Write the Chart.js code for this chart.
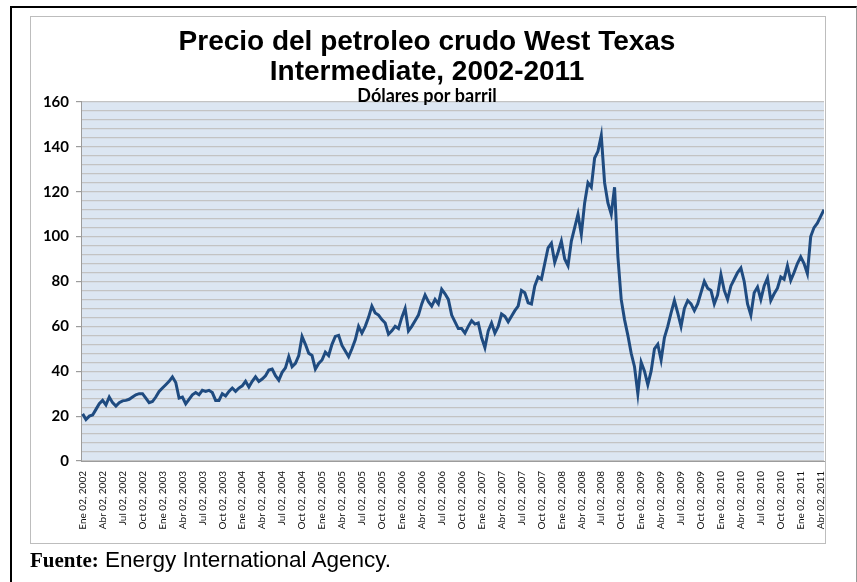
<!DOCTYPE html>
<html>
<head>
<meta charset="utf-8">
<script src="https://cdn.jsdelivr.net/npm/chart.js@4.4.1/dist/chart.umd.min.js"></script>
<style>
  html, body { margin: 0; padding: 0; background: #fff; }
  #wrap { position: relative; width: 857px; height: 582px; overflow: hidden; }
  #outer { position: absolute; left: 10px; top: 6px; width: 844px; height: 600px;
           border-left: 2px solid #000; border-top: 2px solid #000; border-right: 1px solid #999; }
  #frame { position: absolute; left: 30px; top: 16px; width: 794px; height: 526px;
           border: 1px solid #bdbdbd; pointer-events: none; }
  #chart { position: absolute; left: 0; top: 0; }
  #fuente { position: absolute; left: 30px; top: 547px; font-family: "Liberation Sans", Arial, sans-serif;
            font-size: 22.5px; color: #000; white-space: nowrap; }
  #fuente b { font-family: "Liberation Serif", "Times New Roman", serif; font-size: 21px; }
</style>
</head>
<body>
<div id="wrap">
  <div id="outer"></div>
  <canvas id="chart" width="857" height="582"></canvas>
  <div id="frame"></div>
  <div id="fuente"><b>Fuente:</b> Energy International Agency.</div>
</div>
<script>
// precio semi-mensual (USD/barril)
let price2002 = [21.0, 18.5, 20.0, 20.5, 23.0, 25.5, 27.0, 25.0, 28.5, 26.0, 24.5, 26.0, 26.8, 27.0, 27.5, 28.5, 29.5, 30.0, 30.0, 28.0, 26.0, 26.5, 28.5, 31.0];
let price2003 = [32.5, 34.0, 35.5, 37.5, 35.0, 28.0, 28.5, 25.5, 27.5, 29.5, 30.5, 29.5, 31.5, 31.0, 31.5, 30.5, 27.0, 27.0, 30.0, 29.0, 31.0, 32.5, 31.0, 32.5];
let price2004 = [33.5, 35.5, 33.0, 35.5, 37.5, 35.5, 36.5, 38.0, 40.5, 41.0, 38.0, 36.0, 39.5, 41.5, 46.5, 42.0, 43.5, 47.0, 55.5, 52.0, 48.0, 47.0, 41.0, 43.5];
let price2005 = [45.0, 48.5, 47.0, 52.0, 55.5, 56.0, 51.5, 49.0, 46.5, 50.0, 54.0, 60.0, 57.0, 60.0, 64.0, 69.0, 66.0, 65.0, 63.0, 61.5, 56.5, 58.0, 60.0, 59.0];
let price2006 = [64.0, 68.0, 58.0, 60.0, 62.5, 65.0, 70.0, 74.0, 71.0, 69.0, 72.0, 70.0, 76.5, 74.5, 72.0, 65.0, 62.0, 59.0, 59.0, 57.0, 60.0, 62.5, 61.0, 61.5];
let price2007 = [55.0, 50.5, 58.0, 61.5, 57.0, 60.0, 65.5, 64.5, 62.0, 64.5, 67.0, 69.0, 76.0, 75.0, 70.5, 70.0, 78.0, 82.0, 81.0, 88.0, 95.0, 97.0, 88.5, 93.0];
let price2008 = [98.0, 90.0, 87.0, 98.0, 104.0, 110.0, 101.0, 115.0, 124.0, 122.0, 135.0, 138.0, 145.0, 124.0, 115.0, 110.0, 122.0, 91.0, 72.0, 63.0, 56.0, 48.0, 42.0, 30.0];
let price2009 = [44.0, 40.0, 34.0, 40.0, 50.0, 52.0, 45.0, 55.0, 60.0, 66.0, 71.5, 66.0, 60.0, 68.0, 71.5, 70.0, 67.0, 70.0, 75.0, 80.0, 77.0, 76.0, 70.0, 74.0];
let price2010 = [83.0, 76.0, 72.0, 78.0, 81.0, 84.0, 86.0, 80.0, 70.0, 65.0, 75.0, 77.5, 72.0, 78.0, 81.5, 71.5, 74.5, 77.0, 82.0, 81.0, 87.0, 80.5, 84.0, 88.0];
let price2011 = [91.0, 88.0, 83.5, 100.0, 104.0, 106.0, 109.0, 112.0];

// etiquetas trimestrales del eje x (en meses desde Ene 02, 2002)
let tickMonths = [0, 3, 6, 9, 12, 15, 18, 21, 24, 27, 30, 33, 36, 39, 42, 45, 48, 51, 54, 57,
                  60, 63, 66, 69, 72, 75, 78, 81, 84, 87, 90, 93, 96, 99, 102, 105, 108, 111];
let tickLabels = ["Ene 02, 2002", "Abr 02, 2002", "Jul 02, 2002", "Oct 02, 2002",
                  "Ene 02, 2003", "Abr 02, 2003", "Jul 02, 2003", "Oct 02, 2003",
                  "Ene 02, 2004", "Abr 02, 2004", "Jul 02, 2004", "Oct 02, 2004",
                  "Ene 02, 2005", "Abr 02, 2005", "Jul 02, 2005", "Oct 02, 2005",
                  "Ene 02, 2006", "Abr 02, 2006", "Jul 02, 2006", "Oct 02, 2006",
                  "Ene 02, 2007", "Abr 02, 2007", "Jul 02, 2007", "Oct 02, 2007",
                  "Ene 02, 2008", "Abr 02, 2008", "Jul 02, 2008", "Oct 02, 2008",
                  "Ene 02, 2009", "Abr 02, 2009", "Jul 02, 2009", "Oct 02, 2009",
                  "Ene 02, 2010", "Abr 02, 2010", "Jul 02, 2010", "Oct 02, 2010",
                  "Ene 02, 2011", "Abr 02, 2011"];

let prices = [].concat(price2002, price2003, price2004, price2005, price2006,
                       price2007, price2008, price2009, price2010, price2011);
let points = prices.map(function (p, i) { return {x: i / 2, y: p}; });

let plotBg = {
    id: 'plotBg',
    beforeDraw: function (chart) {
        let a = chart.chartArea;
        chart.ctx.save();
        chart.ctx.fillStyle = '#dce6f2';
        chart.ctx.fillRect(a.left, a.top, a.right - a.left, a.bottom - a.top);
        chart.ctx.restore();
    }
};

let lineChart = new Chart(document.getElementById('chart'), {
    type: 'line',
    data: {
        datasets: [{
            data: points,
            borderColor: '#1f4b80',
            borderWidth: 3,
            pointRadius: 0,
            tension: 0,
            fill: false
        }]
    },
    options: {
        responsive: false,
        animation: false,
        layout: { padding: { left: 30, right: 33, top: 0, bottom: 39 } },
        plugins: {
            legend: { display: false },
            tooltip: { enabled: false },
            title: {
                display: true,
                text: ['Precio del petroleo crudo West Texas', 'Intermediate, 2002-2011'],
                color: '#000',
                font: { family: '"Liberation Sans", Arial, sans-serif', size: 28, weight: 'bold', lineHeight: 1.07 },
                padding: { top: 27, bottom: 0 }
            },
            subtitle: {
                display: true,
                text: 'Dólares por barril',
                color: '#000',
                font: { family: 'Lato, sans-serif', size: 18, weight: 'bold', lineHeight: 1.0 },
                padding: { top: 0, bottom: -3 }
            }
        },
        scales: {
            x: {
                type: 'linear',
                min: -0.25,
                max: 111.5,
                afterFit: function (s) { s.height = 82; },
                afterBuildTicks: function (s) {
                    s.ticks = tickMonths.map(function (m) { return {value: m}; });
                },
                grid: { display: false, drawTicks: false },
                border: { display: true, color: '#9c9c9c', width: 1 },
                ticks: {
                    autoSkip: false,
                    minRotation: 90,
                    maxRotation: 90,
                    padding: 10,
                    color: '#111',
                    font: { family: 'Lato, sans-serif', size: 10 },
                    callback: function (v, i) { return tickLabels[i]; }
                }
            },
            y: {
                min: 0,
                max: 160,
                afterFit: function (s) { s.width = 51; },
                grid: {
                    color: '#c3c3c3',
                    lineWidth: 1.2,
                    tickLength: 5,
                    tickColor: function (c) { return c.tick && c.tick.value % 20 === 0 ? '#9c9c9c' : 'rgba(0,0,0,0)'; }
                },
                border: { display: true, color: '#9c9c9c', width: 1 },
                ticks: {
                    stepSize: 4,
                    autoSkip: false,
                    padding: 7,
                    color: '#000',
                    font: { family: 'Lato, sans-serif', size: 15, weight: 'bold' },
                    callback: function (v) { return v % 20 === 0 ? v : ''; }
                }
            }
        }
    },
    plugins: [plotBg]
});
</script>
</body>
</html>
